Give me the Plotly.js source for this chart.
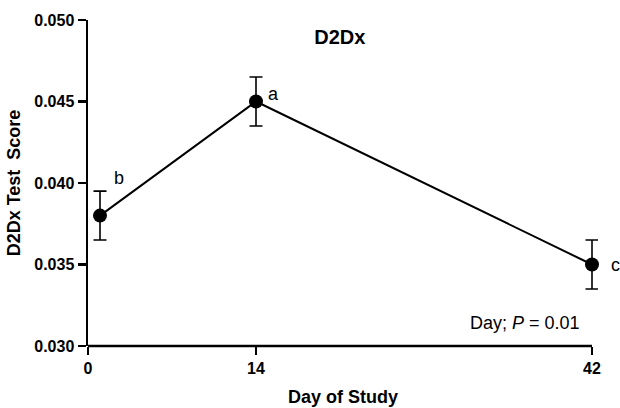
<!DOCTYPE html>
<html>
<head>
<meta charset="utf-8">
<script src="https://cdn.plot.ly/plotly-3.0.1.min.js"></script>
<style>html,body{margin:0;padding:0;background:#fff;}#chart{width:620px;height:408px;}</style>
</head>
<body>
<div id="chart"></div>
<script>
const days = [1, 14, 42];
const scores = [0.038, 0.045, 0.035];
const sem = [0.0015, 0.0015, 0.0015];
const letters = ['b', 'a', 'c'];
const letterShiftX = [19, 17, 23];
const letterShiftY = [38, 8, 0];
const xTicks = [0, 14, 42];
const yTicks = [0.030, 0.035, 0.040, 0.045, 0.050];
const yTickText = ['0.030', '0.035', '0.040', '0.045', '0.050'];

const FONT = 'Liberation Sans, Arial, sans-serif';

const trace = {
  x: days, y: scores, type: 'scatter', mode: 'lines+markers',
  line: {color: '#000', width: 2},
  marker: {color: '#000', size: 14},
  error_y: {type: 'data', array: sem, visible: true, color: '#000', thickness: 1.6, width: 6.5},
  cliponaxis: false, showlegend: false, hoverinfo: 'none'
};

const annotations = letters.map((t, i) => ({
  x: days[i], y: scores[i], xref: 'x', yref: 'y', text: t, showarrow: false,
  xshift: letterShiftX[i], yshift: letterShiftY[i],
  font: {family: FONT, size: 18, color: '#000'}
}));
annotations.push({
  x: 36.4, y: 0.03142, xref: 'x', yref: 'y', showarrow: false,
  text: 'Day; <i>P</i> = 0.01',
  font: {family: FONT, size: 18, color: '#000'}
});

const layout = {
  width: 620, height: 408,
  margin: {l: 88, r: 22, t: 20, b: 62},
  paper_bgcolor: '#fff', plot_bgcolor: '#fff',
  font: {family: FONT, color: '#000'},
  title: {text: '<b>D2Dx</b>', x: 0.548, xanchor: 'center', y: 0.91, yanchor: 'middle',
          font: {family: FONT, size: 20, color: '#000'}},
  xaxis: {
    range: [0, 42.5], tickvals: xTicks, ticktext: xTicks.map(v => '<b>' + v + '</b>'),
    showgrid: false, zeroline: false, showline: false,
    ticks: 'outside', ticklen: 8, tickwidth: 2.5, tickcolor: '#000',
    tickfont: {family: FONT, size: 16, color: '#000'},
    title: {text: '<b>Day of Study</b>', font: {family: FONT, size: 18, color: '#000'}, standoff: 14},
    automargin: false
  },
  yaxis: {
    range: [0.030, 0.050], tickvals: yTicks, ticktext: yTickText.map(v => '<b>' + v + '</b>'),
    showgrid: false, zeroline: false, showline: true, linecolor: '#000', linewidth: 2.5,
    ticks: 'outside', ticklen: 8, tickwidth: 2.5, tickcolor: '#000',
    tickfont: {family: FONT, size: 16, color: '#000'},
    title: {text: '<b>D2Dx Test  Score</b>', font: {family: FONT, size: 18, color: '#000'}, standoff: 9},
    automargin: false
  },
  shapes: [{
    type: 'line', xref: 'x', yref: 'paper',
    x0: xTicks[0], x1: xTicks[xTicks.length - 1], y0: 0, y1: 0,
    line: {color: '#000', width: 2.5}, layer: 'above'
  }],
  annotations: annotations
};

Plotly.newPlot('chart', [trace], layout, {displayModeBar: false, staticPlot: true});
</script>
</body>
</html>
